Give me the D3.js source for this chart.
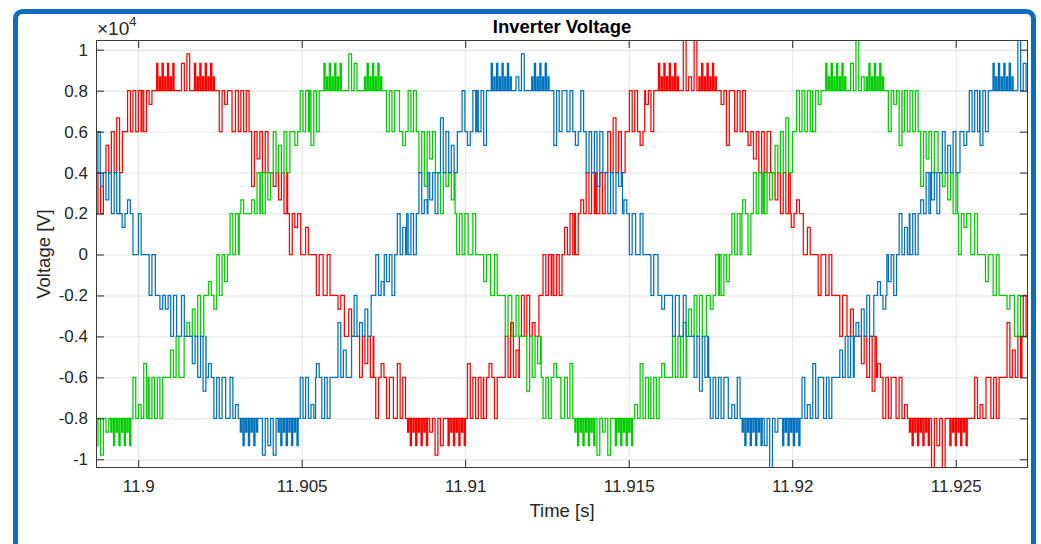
<!DOCTYPE html>
<html>
<head>
<meta charset="utf-8">
<script src="https://cdn.jsdelivr.net/npm/d3@7"></script>
<style>
  html, body { margin: 0; padding: 0; background: #fff; }
  svg { display: block; font-family: "Liberation Sans", Arial, Helvetica, sans-serif; }
</style>
</head>
<body>
<svg id="chart" width="1041" height="544"></svg>
<script>
// ---- data (voltages in units of 1e4 V) ----
const phaseColors = ["#ff0000", "#00cc00", "#0072bd"];
// centre of the first positive half-cycle of each phase [s]
const phasePeakTimes = [11.90147, 11.90659, 11.91171];
// fundamental and PWM carrier periods [s]
const fundamentalPeriod = 0.01537;
const carrierPeriod = 0.000165;
// tallest switching spike of each half-cycle, half-cycles -2 .. 3
const spikeA = [0.98, 0.98, 0.98, 0.98, 1.05, 1.05];
const spikeB = [0.98, 0.98, 0.98, 0.98, 1.05, 1.05];
const spikeC = [0.98, 0.98, 0.98, 1.05, 1.05, 1.05];
// switching bands of one positive half-cycle:
// [start ms, end ms, base level, pulse levels ("S" = spike), pulses per carrier period]
const halfCycleBands = [
  [-3.84, -3.50, 0.0, [0.2, 0.2, 0.133], 1],
  [-3.50, -3.20, 0.2, [0.0, 0.0, 0.267], 1],
  [-3.20, -2.85, 0.2, [0.4, 0.4, 0.267, 0.4], 1],
  [-2.85, -2.50, 0.4, [0.2, 0.267, 0.2], 1],
  [-2.50, -1.95, 0.4, [0.6, 0.667, 0.6, 0.533], 1],
  [-1.95, -1.35, 0.6, [0.8, 0.8, 0.533, 0.8], 1],
  [-1.35, -0.95, 0.8, [0.6, 0.533, 0.6, 0.733], 1],
  [-0.95, -0.30, 0.8, [0.867, 0.933, 0.867, 0.933], 2],
  [-0.30, 0.25, 0.8, ["S", 0.933, "S", 0.867], 1],
  [0.25, 0.90, 0.8, [0.867, 0.933, 0.867, 0.933], 2],
  [0.90, 1.40, 0.8, [0.6, 0.733, 0.533, 0.6], 1],
  [1.40, 1.95, 0.6, [0.8, 0.8, 0.533, 0.8], 1],
  [1.95, 2.50, 0.6, [0.4, 0.4, 0.333, 0.467], 1],
  [2.50, 3.10, 0.4, [0.2, 0.2, 0.333, 0.267], 1],
  [3.10, 3.50, 0.2, [0.0, 0.0, 0.133, 0.267], 1],
  [3.50, 3.84, 0.0, [0.2, 0.2, 0.133], 1]
];
const xTicks = [11.9, 11.905, 11.91, 11.915, 11.92, 11.925];
const xTickLabels = ["11.9", "11.905", "11.91", "11.915", "11.92", "11.925"];
const yTicks = [-1, -0.8, -0.6, -0.4, -0.2, 0, 0.2, 0.4, 0.6, 0.8, 1];
const yTickLabels = ["-1", "-0.8", "-0.6", "-0.4", "-0.2", "0", "0.2", "0.4", "0.6", "0.8", "1"];

// ---- layout ----
const plot = { left: 96, right: 1028, top: 40, bottom: 468 };
const svg = d3.select("#chart");
const x = d3.scaleLinear().domain([11.89871, 11.92721]).range([plot.left, plot.right]);
const y = d3.scaleLinear().domain([-1.0425, 1.0474]).range([plot.bottom, plot.top]);
const tickColor = "#262626";

// blue frame round the figure
svg.append("rect")
  .attr("x", 15.5).attr("y", 11.5)
  .attr("width", 1018).attr("height", 600)
  .attr("rx", 7).attr("ry", 7)
  .attr("fill", "#fff")
  .attr("stroke", "#0a6ebd").attr("stroke-width", 5);

// grid
const grid = svg.append("g");
grid.append("g")
  .attr("transform", `translate(0,${plot.bottom})`)
  .call(d3.axisBottom(x).tickValues(xTicks).tickSize(-(plot.bottom - plot.top)).tickFormat(""))
  .call(g => g.select(".domain").remove())
  .call(g => g.selectAll("line").attr("stroke", "#e3e3e3"));
grid.append("g")
  .attr("transform", `translate(${plot.left},0)`)
  .call(d3.axisLeft(y).tickValues(yTicks).tickSize(-(plot.right - plot.left)).tickFormat(""))
  .call(g => g.select(".domain").remove())
  .call(g => g.selectAll("line").attr("stroke", "#e3e3e3"));

// clip to the axes box
svg.append("clipPath").attr("id", "plotClip")
  .append("rect")
  .attr("x", plot.left).attr("y", plot.top)
  .attr("width", plot.right - plot.left).attr("height", plot.bottom - plot.top);

// build the switched waveform of one phase from the band table
function phasePoints(peakTime, spikes) {
  const pts = [];
  const half = fundamentalPeriod / 2;
  const [t0, t1] = x.domain();
  for (let j = -2; j < spikes.length - 2; j++) {
    const c = peakTime + j * half;
    if (c + half / 2 < t0 || c - half / 2 > t1) continue;
    const sign = (j % 2 === 0) ? 1 : -1;
    const spike = spikes[j + 2];
    halfCycleBands.forEach(([a, b, base, levels, dens]) => {
      const ta = c + a / 1000, tb = c + b / 1000;
      const yb = sign * base;
      const sub = carrierPeriod / dens;
      const w = sub * (dens > 1 ? 0.45 : 0.52);
      pts.push([ta, yb]);
      for (let n = Math.floor(ta / sub); (n + 0.5) * sub < tb; n++) {
        const pc = (n + 0.5) * sub;
        if (pc - w / 2 < ta || pc + w / 2 > tb) continue;
        let lv = levels[n % levels.length];
        if (lv === "S") lv = spike;
        lv *= sign;
        pts.push([pc - w / 2, yb], [pc - w / 2, lv], [pc + w / 2, lv], [pc + w / 2, yb]);
      }
      pts.push([tb, yb]);
    });
  }
  return pts;
}

const line = d3.line().x(d => x(d[0])).y(d => y(d[1]));
const spikeSets = [spikeA, spikeB, spikeC];
const series = svg.append("g").attr("clip-path", "url(#plotClip)");
phasePeakTimes.forEach((pt, i) => {
  series.append("path")
    .attr("d", line(phasePoints(pt, spikeSets[i])))
    .attr("fill", "none")
    .attr("stroke", phaseColors[i])
    .attr("stroke-width", 1.25)
    .attr("stroke-linejoin", "miter");
});

// axes with inward ticks on all four sides
function styleAxis(g) {
  g.select(".domain").remove();
  g.selectAll("line").attr("stroke", tickColor);
  g.selectAll("text")
    .attr("fill", tickColor)
    .attr("font-size", "17px")
    .attr("font-family", "'Liberation Sans', Arial, Helvetica, sans-serif");
}
svg.append("g")
  .attr("transform", `translate(0,${plot.bottom})`)
  .call(d3.axisBottom(x).tickValues(xTicks).tickFormat((d, i) => xTickLabels[i])
    .tickSizeInner(-8).tickSizeOuter(0).tickPadding(12))
  .call(styleAxis);
svg.append("g")
  .attr("transform", `translate(0,${plot.top})`)
  .call(d3.axisTop(x).tickValues(xTicks).tickFormat("").tickSizeInner(-8).tickSizeOuter(0))
  .call(styleAxis);
svg.append("g")
  .attr("transform", `translate(${plot.left},0)`)
  .call(d3.axisLeft(y).tickValues(yTicks).tickFormat((d, i) => yTickLabels[i])
    .tickSizeInner(-8).tickSizeOuter(0).tickPadding(8))
  .call(styleAxis);
svg.append("g")
  .attr("transform", `translate(${plot.right},0)`)
  .call(d3.axisRight(y).tickValues(yTicks).tickFormat("").tickSizeInner(-8).tickSizeOuter(0))
  .call(styleAxis);

// axes box
svg.append("rect")
  .attr("x", plot.left + 0.5).attr("y", plot.top + 0.5)
  .attr("width", plot.right - plot.left - 1).attr("height", plot.bottom - plot.top - 1)
  .attr("fill", "none").attr("stroke", "#3a3a3a").attr("stroke-width", 1);

// exponent label
const expo = svg.append("text")
  .attr("x", 97).attr("y", 35)
  .attr("fill", tickColor).attr("font-size", "19px");
expo.append("tspan").text("\u00d710");
expo.append("tspan").attr("dy", -9).attr("font-size", "13px").text("4");

// title and axis labels
svg.append("text")
  .attr("x", (plot.left + plot.right) / 2).attr("y", 32.5)
  .attr("text-anchor", "middle")
  .attr("font-size", "18.5px").attr("font-weight", "bold")
  .attr("fill", "#000")
  .text("Inverter Voltage");
svg.append("text")
  .attr("x", (plot.left + plot.right) / 2).attr("y", 517)
  .attr("text-anchor", "middle")
  .attr("font-size", "18.5px")
  .attr("fill", tickColor)
  .text("Time [s]");
svg.append("text")
  .attr("transform", `translate(50,${(plot.top + plot.bottom) / 2}) rotate(-90)`)
  .attr("text-anchor", "middle")
  .attr("font-size", "18.5px")
  .attr("fill", tickColor)
  .text("Voltage [V]");
</script>
</body>
</html>
